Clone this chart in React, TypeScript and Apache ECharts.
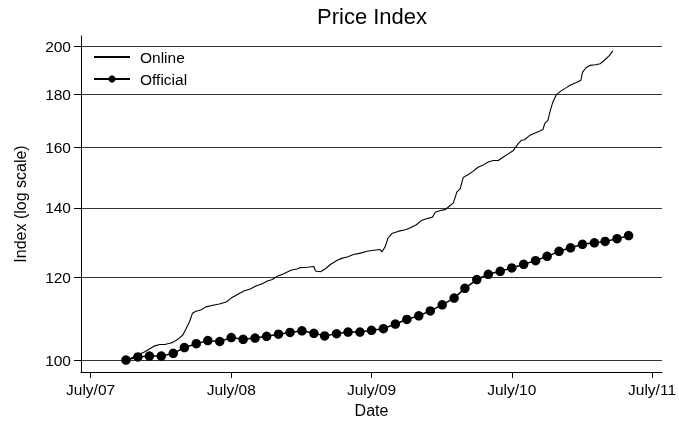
import React, { useEffect, useRef } from 'react';
import * as echarts from 'echarts';

const onlineDates = [
  '2007-10-05', '2007-10-23', '2007-11-05', '2007-11-18', '2007-12-01', '2007-12-15', '2007-12-28',
  '2008-01-10', '2008-01-23', '2008-01-31', '2008-02-13', '2008-02-26', '2008-03-05', '2008-03-14',
  '2008-03-22', '2008-03-31', '2008-04-13', '2008-04-26', '2008-05-14', '2008-05-31', '2008-06-18',
  '2008-07-01', '2008-07-17', '2008-08-03', '2008-08-21', '2008-09-03', '2008-09-20', '2008-10-03',
  '2008-10-16', '2008-10-29', '2008-11-16', '2008-12-03', '2008-12-19', '2008-12-28', '2009-01-14',
  '2009-02-01', '2009-02-05', '2009-02-18', '2009-03-03', '2009-03-17', '2009-04-03', '2009-04-16',
  '2009-04-29', '2009-05-15', '2009-06-02', '2009-06-19', '2009-07-07', '2009-07-24', '2009-07-28',
  '2009-08-06', '2009-08-13', '2009-08-23', '2009-09-10', '2009-09-27', '2009-10-06', '2009-10-26',
  '2009-11-08', '2009-11-21', '2009-12-07', '2009-12-14', '2009-12-27', '2010-01-09', '2010-01-17',
  '2010-01-30', '2010-02-04', '2010-02-08', '2010-02-17', '2010-02-21', '2010-02-25', '2010-03-09',
  '2010-03-22', '2010-04-04', '2010-04-18', '2010-05-01', '2010-05-14', '2010-05-27', '2010-06-09',
  '2010-06-22', '2010-07-05', '2010-07-18', '2010-07-26', '2010-08-03', '2010-08-16', '2010-08-29',
  '2010-09-11', '2010-09-20', '2010-09-25', '2010-10-03', '2010-10-08', '2010-10-16', '2010-10-25',
  '2010-11-07', '2010-11-20', '2010-12-02', '2010-12-15', '2010-12-28', '2011-01-01', '2011-01-10',
  '2011-01-20', '2011-02-04', '2011-02-16', '2011-02-27', '2011-03-12', '2011-03-21',
];
const onlineValues = [
  100.0, 100.8, 101.3, 101.8, 102.5, 103.2, 103.5,
  103.5, 103.8, 104.0, 104.7, 105.7, 107.1, 108.8,
  110.9, 111.4, 111.7, 112.5, 112.9, 113.2, 113.7,
  114.7, 115.6, 116.5, 117.1, 117.8, 118.4, 119.1,
  119.5, 120.4, 121.1, 122.0, 122.3, 122.7, 122.8,
  123.0, 121.8, 121.6, 122.4, 123.6, 124.7, 125.3,
  125.6, 126.3, 126.7, 127.2, 127.5, 127.7, 127.0,
  128.6, 131.0, 132.3, 133.0, 133.4, 133.8, 134.9,
  136.2, 136.7, 137.2, 138.7, 139.2, 139.5, 140.3,
  141.6, 143.4, 145.0, 146.1, 148.1, 149.8, 150.7,
  151.8, 153.2, 154.0, 155.0, 155.5, 155.5, 156.7,
  157.8, 159.0, 161.4, 162.6, 162.8, 164.3, 165.2,
  165.9, 166.5, 168.8, 169.9, 173.0, 177.0, 179.8,
  181.5, 182.7, 183.9, 184.7, 185.7, 189.0, 190.9,
  191.9, 192.2, 192.6, 194.1, 196.1, 198.2,
];

const officialDates = [
  '2007-10-01', '2007-11-01', '2007-12-01', '2008-01-01', '2008-02-01', '2008-03-01', '2008-04-01',
  '2008-05-01', '2008-06-01', '2008-07-01', '2008-08-01', '2008-09-01', '2008-10-01', '2008-11-01',
  '2008-12-01', '2009-01-01', '2009-02-01', '2009-03-01', '2009-04-01', '2009-05-01', '2009-06-01',
  '2009-07-01', '2009-08-01', '2009-09-01', '2009-10-01', '2009-11-01', '2009-12-01', '2010-01-01',
  '2010-02-01', '2010-03-01', '2010-04-01', '2010-05-01', '2010-06-01', '2010-07-01', '2010-08-01',
  '2010-09-01', '2010-10-01', '2010-11-01', '2010-12-01', '2011-01-01', '2011-02-01', '2011-03-01',
  '2011-04-01', '2011-05-01',
];
const officialValues = [
  100.0, 100.7, 100.9, 100.9, 101.5, 102.8, 103.7,
  104.4, 104.2, 105.1, 104.7, 105.0, 105.4, 105.9,
  106.3, 106.7, 106.1, 105.5, 106.0, 106.4, 106.4,
  106.8, 107.2, 108.3, 109.4, 110.3, 111.5, 113.0,
  114.7, 117.2, 119.5, 120.9, 121.7, 122.6, 123.6,
  124.6, 125.8, 127.2, 128.2, 129.2, 129.6, 130.0,
  130.8, 131.7,
];

const yTicks = [100, 120, 140, 160, 180, 200];
const xTickDates = ['2007-07-01', '2008-07-01', '2009-07-01', '2010-07-01', '2011-07-01'];
const xTickLabels = ['July/07', 'July/08', 'July/09', 'July/10', 'July/11'];

const FONT = '"Liberation Sans", Arial, Helvetica, sans-serif';
const ts = (s: string) => new Date(s + 'T00:00:00').getTime();

export default function App() {
  const ref = useRef<HTMLDivElement>(null);
  useEffect(() => {
    if (!ref.current) return;
    const chart = echarts.init(ref.current, undefined, { renderer: 'svg' });
    const xTickTs = xTickDates.map(ts);
    const option: any = {
      animation: false,
      textStyle: { fontFamily: FONT, color: '#000' },
      title: {
        text: 'Price Index',
        left: 317,
        top: 5,
        padding: 0,
        textStyle: { fontSize: 22, fontWeight: 'normal', color: '#000', fontFamily: FONT },
      },
      legend: {
        left: 83,
        top: 47,
        orient: 'vertical',
        itemWidth: 36,
        itemHeight: 9,
        itemGap: 6,
        padding: [2, 8, 5, 10],
        backgroundColor: 'rgba(255,255,255,0.8)',
        textStyle: { fontSize: 15.5, color: '#000', fontFamily: FONT, padding: [0, 0, 0, 5] },
        data: [{ name: 'Online', itemStyle: { opacity: 0 } }, 'Official'],
      },
      grid: { left: 81, right: 15, top: 36, bottom: 54 },
      xAxis: {
        type: 'value',
        min: ts('2007-06-06'),
        max: ts('2011-07-27'),
        name: 'Date',
        nameLocation: 'middle',
        nameGap: 30,
        nameTextStyle: { fontSize: 16, color: '#000', fontFamily: FONT },
        axisLine: { show: true, lineStyle: { color: '#000', width: 1 } },
        axisTick: { show: true, customValues: xTickTs, length: 6, lineStyle: { color: '#000' } },
        axisLabel: {
          customValues: xTickTs,
          fontSize: 15.5,
          color: '#000',
          fontFamily: FONT,
          margin: 9,
          formatter: (v: number) => {
            let best = -1;
            let bd = Infinity;
            xTickTs.forEach((t, i) => {
              const d = Math.abs(t - v);
              if (d < bd) { bd = d; best = i; }
            });
            return best >= 0 && bd < 86400000 * 3 ? xTickLabels[best] : '';
          },
        },
        splitLine: { show: false },
      },
      yAxis: {
        type: 'log',
        logBase: 10,
        min: 97.4,
        max: 204.8,
        name: 'Index (log scale)',
        nameLocation: 'middle',
        nameGap: 53,
        nameRotate: 90,
        nameTextStyle: { fontSize: 16, color: '#000', fontFamily: FONT },
        axisLine: { show: true, lineStyle: { color: '#000', width: 1 } },
        axisTick: { show: true, customValues: yTicks, length: 7, lineStyle: { color: '#000' } },
        axisLabel: {
          customValues: yTicks,
          fontSize: 15.5,
          color: '#000',
          fontFamily: FONT,
          margin: 10,
          formatter: (v: number) => String(Math.round(v)),
        },
        splitLine: { show: true, lineStyle: { color: '#333', width: 1 } },
      },
      series: [
        {
          name: 'Online',
          type: 'line',
          data: onlineDates.map((d, i) => [ts(d), onlineValues[i]]),
          symbol: 'none',
          lineStyle: { color: '#000', width: 1.1 },
          itemStyle: { color: '#000' },
        },
        {
          name: 'Official',
          type: 'line',
          data: officialDates.map((d, i) => [ts(d), officialValues[i]]),
          symbol: 'circle',
          symbolSize: 9.5,
          lineStyle: { color: '#000', width: 1.5 },
          itemStyle: { color: '#000' },
        },
      ],
    };
    chart.setOption(option);
    return () => chart.dispose();
  }, []);
  return <div ref={ref} style={{ position: 'fixed', left: 0, top: 0, width: 679, height: 426 }} />;
}
